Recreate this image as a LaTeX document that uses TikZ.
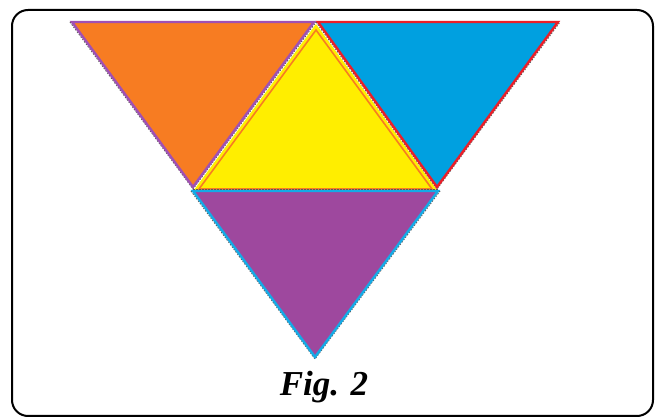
\documentclass[tikz,border=0pt]{standalone}
\usepackage{fontspec}
\setmainfont{Liberation Serif}
\usetikzlibrary{calc}
\definecolor{orng}{RGB}{247,124,34}
\definecolor{blu}{RGB}{0,160,224}
\definecolor{yel}{RGB}{255,238,0}
\definecolor{purp}{RGB}{158,72,158}
\definecolor{redl}{RGB}{235,30,40}
\definecolor{cyanl}{RGB}{20,170,230}
\definecolor{purl}{RGB}{160,80,180}
\tikzset{
  tri/.style={line width=2.4pt, line join=miter},
  grayedge/.style={draw=gray!70!black, line width=1pt, dash pattern=on 1.5pt off 1.5pt}
}
\begin{document}
\begin{tikzpicture}[x=1pt,y=-1pt]
\useasboundingbox (0,0) rectangle (657,419);
\draw[line width=2pt, rounded corners=16pt] (12,10) rectangle (653,416);
% yellow (drawn first, fills the middle)
\coordinate (y1) at (316,24); \coordinate (y2) at (194,190); \coordinate (y3) at (437,190);
\fill[yel] (y1) -- (y2) -- (y3) -- cycle;
\draw[orng, line width=1.6pt] ($(y1)+(0,6)$) -- ($(y2)+(5,-1)$) -- ($(y3)+(-5,-1)$) -- cycle;
% orange
\coordinate (o1) at (72,22); \coordinate (o2) at (314,22); \coordinate (o3) at (193,187);
\fill[orng] (o1) -- (o2) -- (o3) -- cycle;
\draw[grayedge] ($(o1)+(-2,0)$) -- ($(o3)+(0,2)$) -- ($(o2)+(2,0)$);
\draw[tri, draw=purl] (o1) -- (o2) -- (o3) -- cycle;
% blue
\coordinate (b1) at (318,22); \coordinate (b2) at (558,22); \coordinate (b3) at (437,187);
\fill[blu] (b1) -- (b2) -- (b3) -- cycle;
\draw[grayedge] ($(b1)+(-2,0)$) -- ($(b3)+(0,2)$) -- ($(b2)+(2,0)$);
\draw[tri, draw=redl] (b1) -- (b2) -- (b3) -- cycle;
% purple
\coordinate (p1) at (193,191); \coordinate (p2) at (438,191); \coordinate (p3) at (315,357);
\fill[purp] (p1) -- (p2) -- (p3) -- cycle;
\draw[grayedge] ($(p1)+(-2,0)$) -- ($(p3)+(0,2)$) -- ($(p2)+(2,0)$);
\draw[tri, draw=cyanl] (p1) -- (p2) -- (p3) -- cycle;
\draw[grayedge] ($(p1)+(0,-1.5)$) -- ($(p2)+(0,-1.5)$);
\node[font=\fontsize{35}{40}\selectfont\bfseries\itshape] (cap) at (324,387) {Fig. 2};
\end{tikzpicture}
\end{document}
